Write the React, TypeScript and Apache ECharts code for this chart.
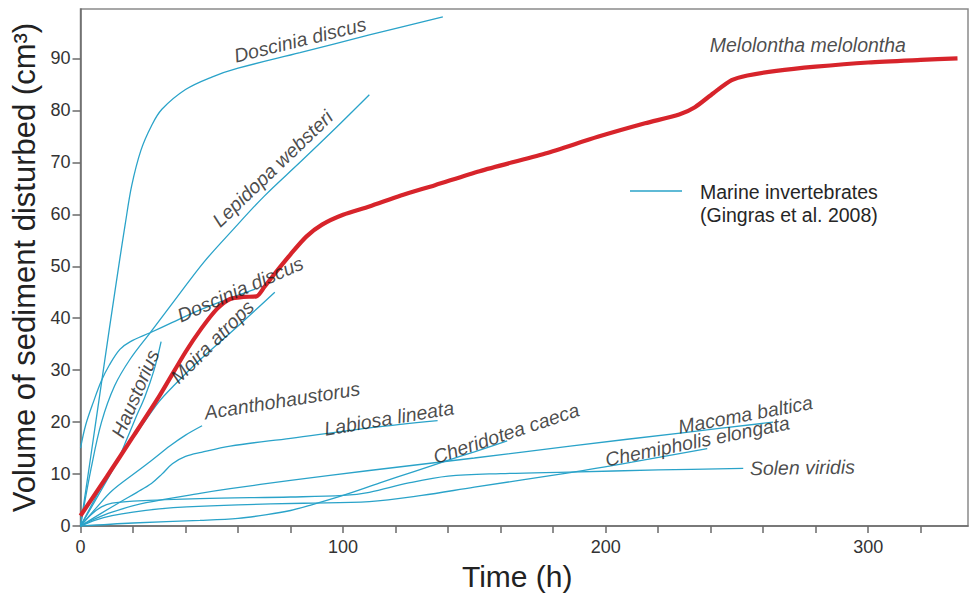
import React, { useEffect, useRef } from 'react';
import * as echarts from 'echarts';

type P = [number, number];

// Red series: Melolontha melolontha
const melolontha: P[] = [
  [0, 2], [10, 9.5], [20, 17.2], [30, 25], [40, 33.5], [46, 38], [52, 41.8], [57, 43.7],
  [62, 44.1], [67, 44.2], [70, 46], [74, 48.6], [80, 52.3], [86, 55.7], [92, 58], [100, 59.9],
  [110, 61.5], [122, 63.6], [135, 65.6], [152, 68.3], [177, 71.7], [197, 74.9], [215, 77.5],
  [228, 79.2], [234, 80.6], [241, 83.3], [248, 85.8], [254, 86.7], [265, 87.6], [280, 88.4],
  [300, 89.2], [320, 89.7], [334, 90],
];

// Blue series: marine invertebrates (Gingras et al. 2008)
const dosciniaTop: P[] = [
  [0, 0], [3.5, 12], [7.4, 25.5], [11, 38], [15, 51.5], [17, 58], [19.5, 65.5], [23, 72.3],
  [27, 77], [31, 80.2], [40, 84], [50, 86.4], [60, 88.1], [83.6, 91.1], [110, 94.5], [138, 98],
];
const dosciniaLow: P[] = [
  [0, 15], [2, 19.5], [5, 24], [8, 28], [11, 31], [15, 34], [19, 35.5], [26.5, 37.2],
  [35, 39.2], [45.5, 41.6], [55, 43.5], [66.5, 45.6],
];
const lepidopa: P[] = [
  [0, 0], [4, 11], [8, 20], [13, 27], [19, 32.2], [26.5, 37.2], [36.7, 44], [47, 50.8],
  [58, 57], [70, 63.5], [83.6, 70], [97, 76.5], [110, 83],
];
const haustorius: P[] = [
  [0, 0], [8, 7], [14, 12.5], [17.7, 16.8], [21, 20.8], [24.6, 25], [28, 30], [30.7, 35.5],
];
const moira: P[] = [
  [0, 0], [8, 7.5], [16, 14], [24, 19.8], [30, 24], [35.3, 26.9], [45.5, 32], [60, 38.5], [74, 45],
];
const acanthohaustorus: P[] = [
  [0, 0], [6, 3.5], [12, 6.8], [21.5, 10.5], [28, 13], [34, 15.4], [40, 17.5], [46.3, 19.3],
];
const labiosa: P[] = [
  [0, 0], [8, 2.5], [15, 4.6], [21.5, 6.5], [27, 8.2], [31, 10], [35, 12], [40, 13.4],
  [46, 14.2], [57, 15.4], [80, 16.9], [110, 18.9], [136, 20.3],
];
const cheridotea: P[] = [
  [0, 0], [20, 0.6], [45.5, 1.1], [60, 1.5], [71, 2.2], [80, 3], [87.4, 4], [100, 5.9],
  [114, 8.3], [127, 10.5], [139.6, 12.6], [150, 14.3], [162.5, 16.4],
];
const macoma: P[] = [
  [0, 0], [5, 1.3], [12, 2.7], [25, 4.5], [45.5, 6.3], [57, 7.2], [80, 8.8], [110, 10.7],
  [150, 13.1], [186.5, 15.4], [230, 18], [263.8, 20],
];
const solen: P[] = [
  [0, 0], [4, 2.2], [8, 3.7], [12, 4.4], [20, 4.8], [45.5, 5.3], [80, 5.6], [100, 5.9],
  [110, 6.5], [125, 8.3], [140, 9.6], [160, 10.1], [186, 10.4], [220, 10.8], [252.4, 11.1],
];
const chemipholis: P[] = [
  [0, 0], [6, 1.2], [12, 2], [20, 2.7], [30, 3.3], [40.5, 3.7], [60, 4.1], [85, 4.4],
  [110, 4.7], [130, 5.9], [150, 7.5], [186.5, 10.3], [210, 12.3], [238.7, 14.9],
];

const blueLines: P[][] = [
  dosciniaTop, dosciniaLow, lepidopa, haustorius, moira, acanthohaustorus, labiosa,
  cheridotea, macoma, solen, chemipholis,
];

// Species labels (data coordinates + rotation in degrees)
const labelTexts = [
  'Doscinia discus', 'Lepidopa websteri', 'Doscinia discus', 'Moira atrops', 'Haustorius',
  'Acanthohaustorus', 'Labiosa lineata', 'Cheridotea caeca', 'Macoma baltica',
  'Chemipholis elongata', 'Solen viridis', 'Melolontha melolontha',
];
const labelX = [83.6, 73.1, 60.8, 50.1, 20.8, 76.8, 117.5, 162.1, 253.2, 234.9, 274.9, 277];
const labelY = [93.6, 68.8, 45.6, 35.5, 25.5, 24.2, 20.8, 17.9, 21.5, 16.4, 11.3, 92.5];
const labelRotate = [13.8, 43.8, 23.7, 45, 67, 9, 9.5, 18.5, 10.5, 11.5, 1, 0];

const xTicks = [0, 100, 200, 300];
const yTicks = [0, 10, 20, 30, 40, 50, 60, 70, 80, 90];

const FONT = '"Liberation Sans", Arial, sans-serif';
const BLUE = '#2aa3c9';
const RED = '#d7242b';
const AXIS = '#6a6a6a';

export default function App() {
  const ref = useRef<HTMLDivElement>(null);
  useEffect(() => {
    const chart = echarts.init(ref.current!, null, { renderer: 'svg' });
    const series: any[] = blueLines.map((d) => ({
      type: 'line',
      data: d,
      showSymbol: false,
      symbol: 'none',
      smooth: 0.35,
      silent: true,
      z: 2,
      lineStyle: { color: BLUE, width: 1.3 },
    }));
    series.push({
      type: 'line',
      data: melolontha,
      showSymbol: false,
      symbol: 'none',
      smooth: 0.25,
      silent: true,
      z: 3,
      lineStyle: { color: RED, width: 4.2 },
    });
    series.push({
      type: 'scatter',
      symbolSize: 1,
      silent: true,
      z: 5,
      itemStyle: { color: 'rgba(0,0,0,0)' },
      data: labelTexts.map((t, i) => ({
        name: t,
        value: [labelX[i], labelY[i]],
        label: { rotate: labelRotate[i] },
      })),
      label: {
        show: true,
        position: 'inside',
        formatter: '{b}',
        fontStyle: 'italic',
        fontSize: 19.5,
        fontFamily: FONT,
        color: '#1c1c1c',
      },
    });

    chart.setOption({
      animation: false,
      backgroundColor: '#ffffff',
      grid: {
        left: 80.5,
        right: 2,
        top: 9,
        bottom: 65,
        show: true,
        borderColor: '#8a8a8a',
        borderWidth: 1.5,
        containLabel: false,
      },
      xAxis: {
        type: 'value',
        min: 0,
        max: 338,
        interval: 20,
        name: 'Time (h)',
        nameLocation: 'middle',
        nameGap: 29,
        nameTextStyle: { fontSize: 30, color: '#222', fontFamily: FONT, padding: [0, 14, 0, 0] },
        axisLine: { show: true, lineStyle: { color: AXIS, width: 1.5 } },
        axisTick: { show: true, length: 7, lineStyle: { color: AXIS, width: 1.5 } },
        axisLabel: {
          fontSize: 18,
          color: '#333',
          fontFamily: FONT,
          margin: 12,
          showMaxLabel: false,
          formatter: (v: number) => (xTicks.includes(v) ? String(v) : ''),
        },
        splitLine: { show: false },
      },
      yAxis: {
        type: 'value',
        min: 0,
        max: 99.5,
        interval: 10,
        name: 'Volume of sediment disturbed (cm³)',
        nameLocation: 'middle',
        nameGap: 39,
        nameTextStyle: { fontSize: 31, color: '#222', fontFamily: FONT },
        axisLine: { show: true, lineStyle: { color: AXIS, width: 1.5 } },
        axisTick: { show: true, length: 8, lineStyle: { color: AXIS, width: 1.5 } },
        axisLabel: {
          fontSize: 18,
          color: '#333',
          fontFamily: FONT,
          margin: 10,
          showMaxLabel: false,
          formatter: (v: number) => (yTicks.includes(v) ? String(v) : ''),
        },
        splitLine: { show: false },
      },
      graphic: [
        {
          type: 'line',
          shape: { x1: 630, y1: 191, x2: 682, y2: 191 },
          style: { stroke: BLUE, lineWidth: 1.3 },
        },
        {
          type: 'text',
          x: 700,
          y: 180,
          style: {
            text: 'Marine invertebrates\n(Gingras et al. 2008)',
            fontSize: 19.5,
            fontFamily: FONT,
            lineHeight: 23,
            fill: '#262626',
          },
        },
      ],
      series,
    });
    return () => chart.dispose();
  }, []);
  return (
    <div
      ref={ref}
      style={{ position: 'fixed', left: 0, top: 0, width: 970, height: 596, background: '#fff' }}
    />
  );
}
